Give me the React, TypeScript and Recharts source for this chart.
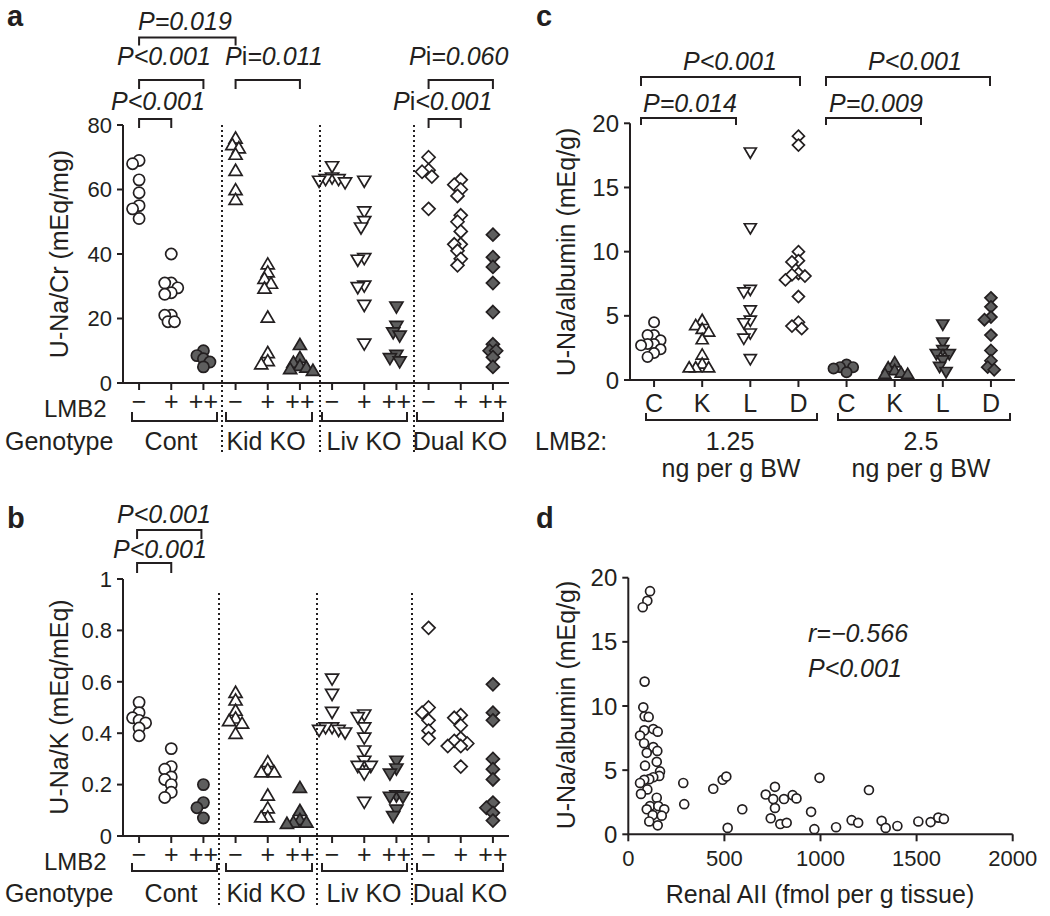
import React from "react";
import { ScatterChart, Scatter, XAxis, YAxis } from "recharts";

const W = 1050;
const H = 916;
const FONT = "'Liberation Sans', Arial, Helvetica, sans-serif";
const INK = "#231f20";
const GREY = "#5e5e5e";

// panels a and b: genotype groups, each with LMB2 -, +, ++
const genotypes = ["Cont", "Kid KO", "Liv KO", "Dual KO"];
const lmb2Ticks = ["−", "+", "++"];

// a: U-Na/Cr (mEq/mg)
const naCrCont = [
  [69, 68, 63, 59, 55, 54, 51],
  [40, 31, 31, 29.5, 28, 27.5, 21, 21, 19, 19],
  [10, 8.5, 7.5, 6.5, 5],
];
const naCrKid = [
  [76, 74, 73, 71, 66, 60, 57],
  [37, 34.5, 32.5, 31, 29.5, 20.5, 9.5, 7, 6],
  [12, 8, 6.5, 5.5, 5, 4.5, 4],
];
const naCrLiv = [
  [67, 63.5, 63, 63, 62.5, 62],
  [62.5, 53, 50, 48, 38.5, 38, 30, 29.5, 24, 12],
  [23.5, 17.5, 15.5, 14.5, 8.5, 7.5, 6.5],
];
const naCrDual = [
  [70, 66, 65.5, 64, 54],
  [63, 61.5, 60, 58, 52, 50, 47, 43, 43, 41, 38.5, 36.5],
  [46, 39, 36, 31, 22, 12, 10, 10, 8, 5],
];

// b: U-Na/K (mEq/mEq)
const naKCont = [
  [0.52, 0.48, 0.46, 0.45, 0.44, 0.42, 0.39],
  [0.34, 0.27, 0.26, 0.23, 0.22, 0.2, 0.17, 0.15],
  [0.2, 0.13, 0.11, 0.07],
];
const naKKid = [
  [0.56, 0.53, 0.49, 0.46, 0.45, 0.44, 0.4],
  [0.29, 0.26, 0.25, 0.25, 0.16, 0.11, 0.075, 0.075],
  [0.19, 0.1, 0.065, 0.055, 0.055, 0.05],
];
const naKLiv = [
  [0.61, 0.55, 0.48, 0.42, 0.42, 0.41, 0.41, 0.4],
  [0.47, 0.46, 0.42, 0.38, 0.33, 0.29, 0.27, 0.27, 0.24, 0.13],
  [0.29, 0.26, 0.24, 0.155, 0.15, 0.15, 0.1, 0.075],
];
const naKDual = [
  [0.81, 0.5, 0.48, 0.45, 0.41, 0.38],
  [0.47, 0.46, 0.43, 0.38, 0.37, 0.36, 0.35, 0.35, 0.27],
  [0.59, 0.48, 0.45, 0.3, 0.26, 0.22, 0.13, 0.11, 0.09, 0.06],
];

// c: U-Na/albumin (mEq/g) by genotype, two LMB2 doses
const albCats = ["C", "K", "L", "D"];
const albLowDose = [
  [4.5, 3.5, 3.5, 3.1, 2.8, 2.8, 2.7, 2.4, 2.1, 1.8],
  [4.7, 4.3, 4.0, 3.8, 3.2, 2.0, 1.3, 1.0, 1.0, 1.0],
  [17.7, 11.8, 7.0, 6.8, 5.4, 4.6, 4.4, 3.6, 3.2, 1.6],
  [19, 18.3, 10, 9.3, 9.2, 8.3, 8.2, 8.1, 7.8, 6.5, 4.5, 4.2, 4.0],
];
const albHighDose = [
  [1.2, 1.0, 1.0, 0.9, 0.6],
  [1.4, 1.0, 0.8, 0.6, 0.5, 0.5],
  [4.3, 2.9, 2.3, 2.0, 2.0, 1.5, 1.0, 0.6],
  [6.4, 5.7, 4.9, 4.7, 3.5, 2.3, 1.5, 1.0, 0.8],
];

// d: renal AII vs U-Na/albumin
const renalAII = [
  113, 99, 75, 85, 78, 85, 106, 83, 130, 153, 61, 82, 130, 151, 96, 148, 87, 165, 161, 130,
  109, 83, 61, 99, 66, 148, 113, 96, 156, 187, 127, 174, 109, 153, 286, 291, 442, 491, 510,
  517, 593, 715, 763, 754, 763, 741, 810, 855, 875, 791, 824, 951, 968, 995, 1081, 1252,
  1162, 1196, 1318, 1339, 1400, 1509, 1573, 1613, 1642,
];
const naAlbumin = [
  18.95, 18.2, 17.7, 11.9, 9.9, 9.2, 9.15, 8.1, 8.2, 8.0, 7.7, 7.1, 6.8, 6.5, 6.35, 5.65, 5.35,
  4.9, 4.55, 4.45, 4.3, 4.25, 4.0, 3.5, 3.15, 2.85, 2.2, 1.95, 2.2, 1.95, 1.5, 1.45, 1.0, 0.7,
  4.0, 2.35, 3.55, 4.25, 4.5, 0.5, 1.95, 3.1, 3.7, 2.75, 2.05, 1.25, 2.75, 3.05, 2.8, 0.8, 0.9,
  1.75, 0.4, 4.4, 0.55, 3.45, 1.1, 0.9, 1.05, 0.5, 0.65, 1.0, 0.95, 1.3, 1.2,
];

// plot boxes (pixels)
const boxA = { l: 123, r: 509, t: 125, b: 383 };
const boxB = { l: 123, r: 509, t: 579, b: 836 };
const boxC = { l: 630, r: 1015, t: 123.3, b: 380 };
const boxD = { l: 628.3, r: 1012.7, t: 577.7, b: 834.3 };

const shapesByGroup = ["circle", "up", "down", "diamond"];

// simple beeswarm: pixel offsets so overlapping dots are spread sideways
function swarm(vals: number[], pxY: number, gap = 6.5, step = 3.25) {
  const placed: [number, number][] = [];
  return vals.map((v) => {
    const y = v * pxY;
    for (let k = 0; k < 60; k++) {
      const dx = k === 0 ? 0 : (k % 2 ? -1 : 1) * Math.ceil(k / 2) * step;
      if (placed.every(([px, py]) => (px - dx) ** 2 + (py - y) ** 2 >= gap * gap)) {
        placed.push([dx, y]);
        return dx;
      }
    }
    return 0;
  });
}

function marker(kind: string, fill: string, s: number) {
  return (p: any) => {
    const { cx, cy } = p;
    if (cx == null || cy == null) return <g />;
    const st = { fill, stroke: INK, strokeWidth: 1.7 };
    if (kind === "circle") return <circle cx={cx} cy={cy} r={s * 0.86} {...st} />;
    if (kind === "up")
      return (
        <polygon
          points={`${cx},${cy - s * 0.9} ${cx + s},${cy + s * 0.8} ${cx - s},${cy + s * 0.8}`}
          {...st}
        />
      );
    if (kind === "down")
      return (
        <polygon
          points={`${cx},${cy + s * 0.9} ${cx + s},${cy - s * 0.8} ${cx - s},${cy - s * 0.8}`}
          {...st}
        />
      );
    return (
      <polygon
        points={`${cx},${cy - s} ${cx + s},${cy} ${cx},${cy + s} ${cx - s},${cy}`}
        {...st}
      />
    );
  };
}

const XH = 50;
const YW = 90;

function chartMargin(box: { l: number; r: number; t: number; b: number }) {
  return { top: box.t, right: W - box.r, bottom: H - box.b - XH, left: box.l - YW };
}

const axisLine = { stroke: INK, strokeWidth: 2 };

function groupedSeries(groups: number[][][], box: typeof boxA, yMax: number, nPerGroup: number, nTotal: number, darkFrom: number, size: number) {
  const pxX = (box.r - box.l) / nTotal;
  const pxY = (box.b - box.t) / yMax;
  const out: any[] = [];
  groups.forEach((g, gi) => {
    g.forEach((vals, di) => {
      const pos = gi * nPerGroup + di;
      const offs = swarm(vals, pxY);
      const data = vals.map((v, i) => ({ x: pos + offs[i] / pxX, y: v }));
      out.push({ key: `${gi}-${di}`, data, shape: marker(shapesByGroup[gi], di >= darkFrom ? GREY : "#fff", size) });
    });
  });
  return out;
}

const seriesA = groupedSeries([naCrCont, naCrKid, naCrLiv, naCrDual], boxA, 80, 3, 12, 2, 6.5);
const seriesB = groupedSeries([naKCont, naKKid, naKLiv, naKDual], boxB, 1, 3, 12, 2, 6.5);

// panel c: x = dose * 4 + genotype
const seriesC = (() => {
  const pxX = (boxC.r - boxC.l) / 8;
  const pxY = (boxC.b - boxC.t) / 20;
  const out: any[] = [];
  [albLowDose, albHighDose].forEach((dose, d) => {
    dose.forEach((vals, gi) => {
      const pos = d * 4 + gi;
      const offs = swarm(vals, pxY);
      out.push({
        key: `c${d}-${gi}`,
        data: vals.map((v, i) => ({ x: pos + offs[i] / pxX, y: v })),
        shape: marker(shapesByGroup[gi], d === 1 ? GREY : "#fff", 6),
      });
    });
  });
  return out;
})();

const dataD = renalAII.map((x, i) => ({ x, y: naAlbumin[i] }));

const lmbFmt = (v: number) => lmb2Ticks[Math.round(v) % 3];
const catFmt = (v: number) => albCats[Math.round(v) % 4];
const fracFmt = (v: number) => (v === 0 ? "0" : v === 1 ? "1" : v.toFixed(1));

function Layer({ children }: { children: React.ReactNode }) {
  return <div style={{ position: "absolute", left: 0, top: 0 }}>{children}</div>;
}

const tickStyle = (fs: number) => ({ fill: INK, fontSize: fs, fontFamily: FONT });

// pixel helpers for the annotations
const ax = (i: number) => boxA.l + ((i + 0.5) * (boxA.r - boxA.l)) / 12;
const bDown = (x1: number, x2: number, y: number, d: number) => `M${x1},${y + d}V${y}H${x2}V${y + d}`;
const bUp = (x1: number, x2: number, y: number, d: number) => `M${x1},${y - d}V${y}H${x2}V${y - d}`;

function Pi({ x, y, rest }: { x: number; y: number; rest: string }) {
  return (
    <text x={x} y={y} fontStyle="italic">
      P<tspan fontStyle="normal">i</tspan>
      {rest}
    </text>
  );
}

function Overlay() {
  const groupBr = [
    [132, 217],
    [226, 312],
    [322, 407],
    [417, 503],
  ];
  const groupNames = [171, 266, 364, 460];
  const pathStyle = { fill: "none", stroke: INK, strokeWidth: 2 };
  return (
    <svg
      width={W}
      height={H}
      style={{ position: "absolute", left: 0, top: 0, pointerEvents: "none" }}
      fontFamily={FONT}
      fontSize={25}
      fill={INK}
    >
      {/* panel letters */}
      <g fontWeight="bold" fontSize={29}>
        <text x={7} y={26}>a</text>
        <text x={7} y={528}>b</text>
        <text x={536} y={26}>c</text>
        <text x={536} y={528}>d</text>
      </g>

      {/* axis titles */}
      <text transform="translate(59,254) rotate(-90)" textAnchor="middle" dy="0.35em">U-Na/Cr (mEq/mg)</text>
      <text transform="translate(59,707) rotate(-90)" textAnchor="middle" dy="0.35em">U-Na/K (mEq/mEq)</text>
      <text transform="translate(566,252) rotate(-90)" textAnchor="middle" dy="0.35em">U-Na/albumin (mEq/g)</text>
      <text transform="translate(566,705) rotate(-90)" textAnchor="middle" dy="0.35em">U-Na/albumin (mEq/g)</text>
      <text x={820} y={903} textAnchor="middle">Renal AII (fmol per g tissue)</text>

      {/* dotted separators */}
      {[222, 320, 414].map((x) => (
        <line key={`da${x}`} x1={x} x2={x} y1={125} y2={455} stroke={INK} strokeWidth={2} strokeDasharray="2 3" />
      ))}
      {[219, 317, 412].map((x) => (
        <line key={`db${x}`} x1={x} x2={x} y1={593} y2={905} stroke={INK} strokeWidth={2} strokeDasharray="2 3" />
      ))}

      {/* panel a, b labels under axis */}
      <text x={44} y={417} fontSize={24}>LMB2</text>
      <text x={44} y={870} fontSize={24}>LMB2</text>
      <text x={5} y={450}>Genotype</text>
      <text x={5} y={902}>Genotype</text>
      {genotypes.map((g, i) => (
        <g key={g}>
          <text x={groupNames[i]} y={450} textAnchor="middle">{g}</text>
          <text x={groupNames[i]} y={902} textAnchor="middle">{g}</text>
          <path d={bUp(groupBr[i][0], groupBr[i][1], 421, 9)} {...pathStyle} />
          <path d={bUp(groupBr[i][0], groupBr[i][1], 871, 8)} {...pathStyle} />
        </g>
      ))}

      {/* panel a stats */}
      <g fontStyle="italic">
        <text x={138} y={30}>P=0.019</text>
        <text x={117} y={65}>P&lt;0.001</text>
        <text x={111} y={110}>P&lt;0.001</text>
      </g>
      <Pi x={225} y={65} rest="=0.011" />
      <Pi x={409} y={65} rest="=0.060" />
      <Pi x={393} y={110} rest="<0.001" />
      <path d={bDown(ax(0), ax(3), 37.5, 8)} {...pathStyle} />
      <path d={bDown(ax(0), ax(2), 80, 9)} {...pathStyle} />
      <path d={bDown(ax(3), ax(5), 80, 9)} {...pathStyle} />
      <path d={bDown(ax(9), ax(11), 80, 9)} {...pathStyle} />
      <path d={bDown(ax(0), ax(1), 119, 9)} {...pathStyle} />
      <path d={bDown(ax(9), ax(10), 119, 9)} {...pathStyle} />

      {/* panel b stats */}
      <g fontStyle="italic">
        <text x={117} y={523}>P&lt;0.001</text>
        <text x={113} y={558}>P&lt;0.001</text>
      </g>
      <path d={bDown(ax(0) - 2, ax(2) - 2, 530, 9)} {...pathStyle} />
      <path d={bDown(ax(0) - 2, ax(1), 563, 10)} {...pathStyle} />

      {/* panel c stats */}
      <g fontStyle="italic">
        <text x={683} y={70}>P&lt;0.001</text>
        <text x={643} y={112}>P=0.014</text>
        <text x={868} y={70}>P&lt;0.001</text>
        <text x={829} y={112}>P=0.009</text>
      </g>
      <path d={bDown(641, 800, 77, 9)} {...pathStyle} />
      <path d={bDown(641, 736, 118, 7)} {...pathStyle} />
      <path d={bDown(826, 990, 77, 9)} {...pathStyle} />
      <path d={bDown(826, 921, 118, 7)} {...pathStyle} />

      {/* panel c labels under axis */}
      <path d={bUp(646, 817, 420, 7)} {...pathStyle} />
      <path d={bUp(838, 1010, 420, 7)} {...pathStyle} />
      <text x={535} y={450}>LMB2:</text>
      <text x={730} y={450} textAnchor="middle">1.25</text>
      <text x={731} y={477} textAnchor="middle">ng per g BW</text>
      <text x={921} y={450} textAnchor="middle">2.5</text>
      <text x={921} y={477} textAnchor="middle">ng per g BW</text>

      {/* panel d stats */}
      <g fontStyle="italic">
        <text x={808} y={642}>r=−0.566</text>
        <text x={808} y={677}>P&lt;0.001</text>
      </g>
    </svg>
  );
}

export default function App() {
  return (
    <div style={{ position: "absolute", left: 0, top: 0, width: W, height: H, background: "#fff", fontFamily: FONT }}>
      <Layer>
        <ScatterChart width={W} height={H} margin={chartMargin(boxA)}>
          <XAxis type="number" dataKey="x" domain={[-0.5, 11.5]} ticks={[0, 1, 2, 3, 4, 5, 6, 7, 8, 9, 10, 11]}
            tickFormatter={lmbFmt} interval={0} allowDataOverflow height={XH} tickSize={7} tickMargin={2}
            axisLine={axisLine} tickLine={axisLine} tick={tickStyle(25)} />
          <YAxis type="number" dataKey="y" domain={[0, 80]} ticks={[0, 20, 40, 60, 80]} interval={0}
            allowDataOverflow width={YW} tickSize={6} tickMargin={5} axisLine={axisLine} tickLine={axisLine} tick={tickStyle(22)} />
          {seriesA.map((s) => (
            <Scatter key={s.key} data={s.data} shape={s.shape} isAnimationActive={false} />
          ))}
        </ScatterChart>
      </Layer>
      <Layer>
        <ScatterChart width={W} height={H} margin={chartMargin(boxB)}>
          <XAxis type="number" dataKey="x" domain={[-0.5, 11.5]} ticks={[0, 1, 2, 3, 4, 5, 6, 7, 8, 9, 10, 11]}
            tickFormatter={lmbFmt} interval={0} allowDataOverflow height={XH} tickSize={7} tickMargin={2}
            axisLine={axisLine} tickLine={axisLine} tick={tickStyle(25)} />
          <YAxis type="number" dataKey="y" domain={[0, 1]} ticks={[0, 0.2, 0.4, 0.6, 0.8, 1]} tickFormatter={fracFmt}
            interval={0} allowDataOverflow width={YW} tickSize={6} tickMargin={5} axisLine={axisLine} tickLine={axisLine} tick={tickStyle(22)} />
          {seriesB.map((s) => (
            <Scatter key={s.key} data={s.data} shape={s.shape} isAnimationActive={false} />
          ))}
        </ScatterChart>
      </Layer>
      <Layer>
        <ScatterChart width={W} height={H} margin={chartMargin(boxC)}>
          <XAxis type="number" dataKey="x" domain={[-0.5, 7.5]} ticks={[0, 1, 2, 3, 4, 5, 6, 7]}
            tickFormatter={catFmt} interval={0} allowDataOverflow height={XH} tickSize={7} tickMargin={7}
            axisLine={axisLine} tickLine={axisLine} tick={tickStyle(25)} />
          <YAxis type="number" dataKey="y" domain={[0, 20]} ticks={[0, 5, 10, 15, 20]} interval={0}
            allowDataOverflow width={YW} tickSize={6} tickMargin={5} axisLine={axisLine} tickLine={axisLine} tick={tickStyle(24)} />
          {seriesC.map((s) => (
            <Scatter key={s.key} data={s.data} shape={s.shape} isAnimationActive={false} />
          ))}
        </ScatterChart>
      </Layer>
      <Layer>
        <ScatterChart width={W} height={H} margin={chartMargin(boxD)}>
          <XAxis type="number" dataKey="x" domain={[0, 2000]} ticks={[0, 500, 1000, 1500, 2000]} interval={0}
            allowDataOverflow height={XH} tickSize={7} tickMargin={9} axisLine={axisLine} tickLine={axisLine} tick={tickStyle(22)} />
          <YAxis type="number" dataKey="y" domain={[0, 20]} ticks={[0, 5, 10, 15, 20]} interval={0}
            allowDataOverflow width={YW} tickSize={6} tickMargin={5} axisLine={axisLine} tickLine={axisLine} tick={tickStyle(24)} />
          <Scatter data={dataD} shape={marker("circle", "#fff", 5.2)} isAnimationActive={false} />
        </ScatterChart>
      </Layer>
      <Overlay />
    </div>
  );
}
